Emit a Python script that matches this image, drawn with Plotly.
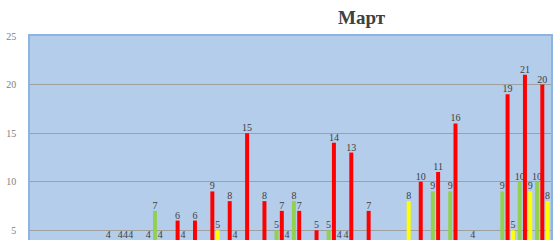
import plotly.graph_objects as go

days = [str(d) for d in range(1, 31)]
N = None
green = [N, N, N, N, N, 4, N, 7, N, N, N, N, N, N, 5, 8, N, 5, 4, N, N, N, N, 9, 9, N, N, 9, 10, 10]
red = [N, N, N, N, 4, 4, N, 4, 6, 6, 9, 8, 15, 8, 7, 7, 5, 14, 13, 7, N, N, 10, 11, 16, 4, N, 19, 21, 20]
yellow = [N, N, N, N, N, 4, 4, N, 4, N, 5, 4, N, N, 4, N, N, 4, N, N, N, 8, N, N, N, N, N, 5, 9, 8]

series = [("green", green, "#92D050"), ("red", red, "#FF0000"), ("yellow", yellow, "#FFFF00")]

fig = go.Figure()
for name, vals, col in series:
    fig.add_trace(go.Bar(
        x=days, y=vals, name=name, marker=dict(color=col, line=dict(width=0)),
        text=[("" if v is None else str(v)) for v in vals],
        textposition="outside", textangle=0, cliponaxis=False, constraintext="none",
        textfont=dict(family="Liberation Serif", size=10, color="#404040"),
    ))

fig.update_layout(
    width=553, height=240,
    margin=dict(l=30, r=2, t=36, b=0),
    paper_bgcolor="white", plot_bgcolor="#B3CDEA",
    barmode="group", bargap=0.085, bargroupgap=0.25,
    showlegend=False,
    annotations=[dict(text="<b>Март</b>", xref="paper", yref="paper", x=(362 - 30) / 521, y=1,
                      yshift=19, showarrow=False, xanchor="center", yanchor="middle",
                      font=dict(family="Liberation Serif", size=19, color="#404040"))],
)
fig.update_xaxes(showticklabels=False, showgrid=False, zeroline=False,
                 showline=True, mirror=True, linecolor="#8DB3E2", linewidth=1.5,
                 range=[-0.5, 29.5])
fig.update_yaxes(range=[4, 25], tickvals=[5, 10, 15, 20, 25], showgrid=True, gridcolor="#A0A0A0",
                 gridwidth=1, zeroline=False, showline=True, mirror=True, linecolor="#8DB3E2",
                 linewidth=1.5, ticklabelstandoff=10,
                 tickfont=dict(family="Liberation Serif", size=10, color="#808080"))

fig.write_html("out.html")
